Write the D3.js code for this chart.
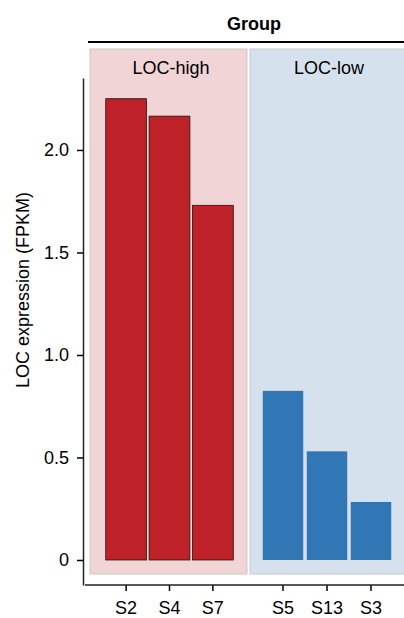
<!DOCTYPE html>
<html>
<head>
<meta charset="utf-8">
<script src="https://cdn.jsdelivr.net/npm/d3@7"></script>
<style>
  body { margin: 0; background: #fff; }
  text { font-family: "Liberation Sans", Arial, sans-serif; }
</style>
</head>
<body>
<div id="chart"></div>
<script>
/* DATA */
const highSamples = ["S2", "S4", "S7"];
const highValues  = [2.25, 2.165, 1.73];
const lowSamples  = ["S5", "S13", "S3"];
const lowValues   = [0.825, 0.53, 0.283];
const groupLabels = ["LOC-high", "LOC-low"];
const yTicks      = [0, 0.5, 1.0, 1.5, 2.0];

const W = 404, H = 618;
const FS = "18px";

const svg = d3.select("#chart").append("svg")
    .attr("width", W)
    .attr("height", H);

// y scale (extends below 0 and above top like ggplot expand)
const y = d3.scaleLinear()
    .domain([-0.122, 2.351])
    .range([585, 78]);

// panel x scales
const xHigh = d3.scaleBand().domain(highSamples).range([104, 235]).paddingInner(0.06).paddingOuter(0.04);
const xLow  = d3.scaleBand().domain(lowSamples).range([261, 393]).paddingInner(0.08).paddingOuter(0.04);

const panels = [
    { label: groupLabels[0], x0: 90,  x1: 247, lx: 171, bg: "#f0d4d6", bar: "#be2127", stroke: "#2a1010", scale: xHigh, samples: highSamples, values: highValues },
    { label: groupLabels[1], x0: 250, x1: 410, lx: 329, bg: "#d5e2ee", bar: "#3176b5", stroke: "none",    scale: xLow,  samples: lowSamples,  values: lowValues }
];

// strip header
svg.append("text")
    .attr("x", 254).attr("y", 30)
    .attr("text-anchor", "middle")
    .style("font-size", FS)
    .style("font-weight", "bold")
    .text("Group");

svg.append("line")
    .attr("x1", 88).attr("x2", W)
    .attr("y1", 42).attr("y2", 42)
    .attr("stroke", "#000")
    .attr("stroke-width", 2);

panels.forEach(p => {
    const g = svg.append("g");
    g.append("rect")
        .attr("x", p.x0).attr("y", 49)
        .attr("width", p.x1 - p.x0).attr("height", 574 - 49)
        .attr("fill", p.bg)
        .attr("stroke", "#c9c9c9")
        .attr("stroke-width", 1);

    g.append("text")
        .attr("x", p.lx)
        .attr("y", 74)
        .attr("text-anchor", "middle")
        .style("font-size", FS)
        .text(p.label);

    g.selectAll(".bar")
        .data(p.samples.map((s, i) => ({ s, v: p.values[i] })))
        .enter().append("rect")
        .attr("class", "bar")
        .attr("x", d => p.scale(d.s))
        .attr("y", d => y(d.v))
        .attr("width", p.scale.bandwidth())
        .attr("height", d => y(0) - y(d.v))
        .attr("fill", p.bar)
        .attr("stroke", p.stroke)
        .attr("stroke-width", 0.8);

    // x ticks for this panel
    const ax = svg.append("g")
        .attr("transform", "translate(0,585)")
        .call(d3.axisBottom(p.scale).tickSize(6).tickPadding(10));
    ax.select(".domain").remove();
    ax.selectAll("line").attr("stroke-width", 1.5);
    ax.selectAll("text").style("font-size", FS).attr("fill", "#000");
});

// x axis line
svg.append("line")
    .attr("x1", 85).attr("x2", W)
    .attr("y1", 585).attr("y2", 585)
    .attr("stroke", "#222")
    .attr("stroke-width", 1.5);

// y axis
const yAxis = svg.append("g")
    .attr("transform", "translate(83,0)")
    .call(d3.axisLeft(y)
        .tickValues(yTicks)
        .tickFormat(d => d === 0 ? "0" : d3.format(".1f")(d))
        .tickSize(6)
        .tickSizeOuter(0)
        .tickPadding(8));
yAxis.select(".domain").attr("stroke", "#222").attr("stroke-width", 1.5);
yAxis.selectAll(".tick line").attr("stroke-width", 1.5);
yAxis.selectAll("text").style("font-size", FS).attr("fill", "#000");

// y label
svg.append("text")
    .attr("transform", "translate(29,290) rotate(-90)")
    .attr("text-anchor", "middle")
    .style("font-size", FS)
    .text("LOC expression (FPKM)");
</script>
</body>
</html>
